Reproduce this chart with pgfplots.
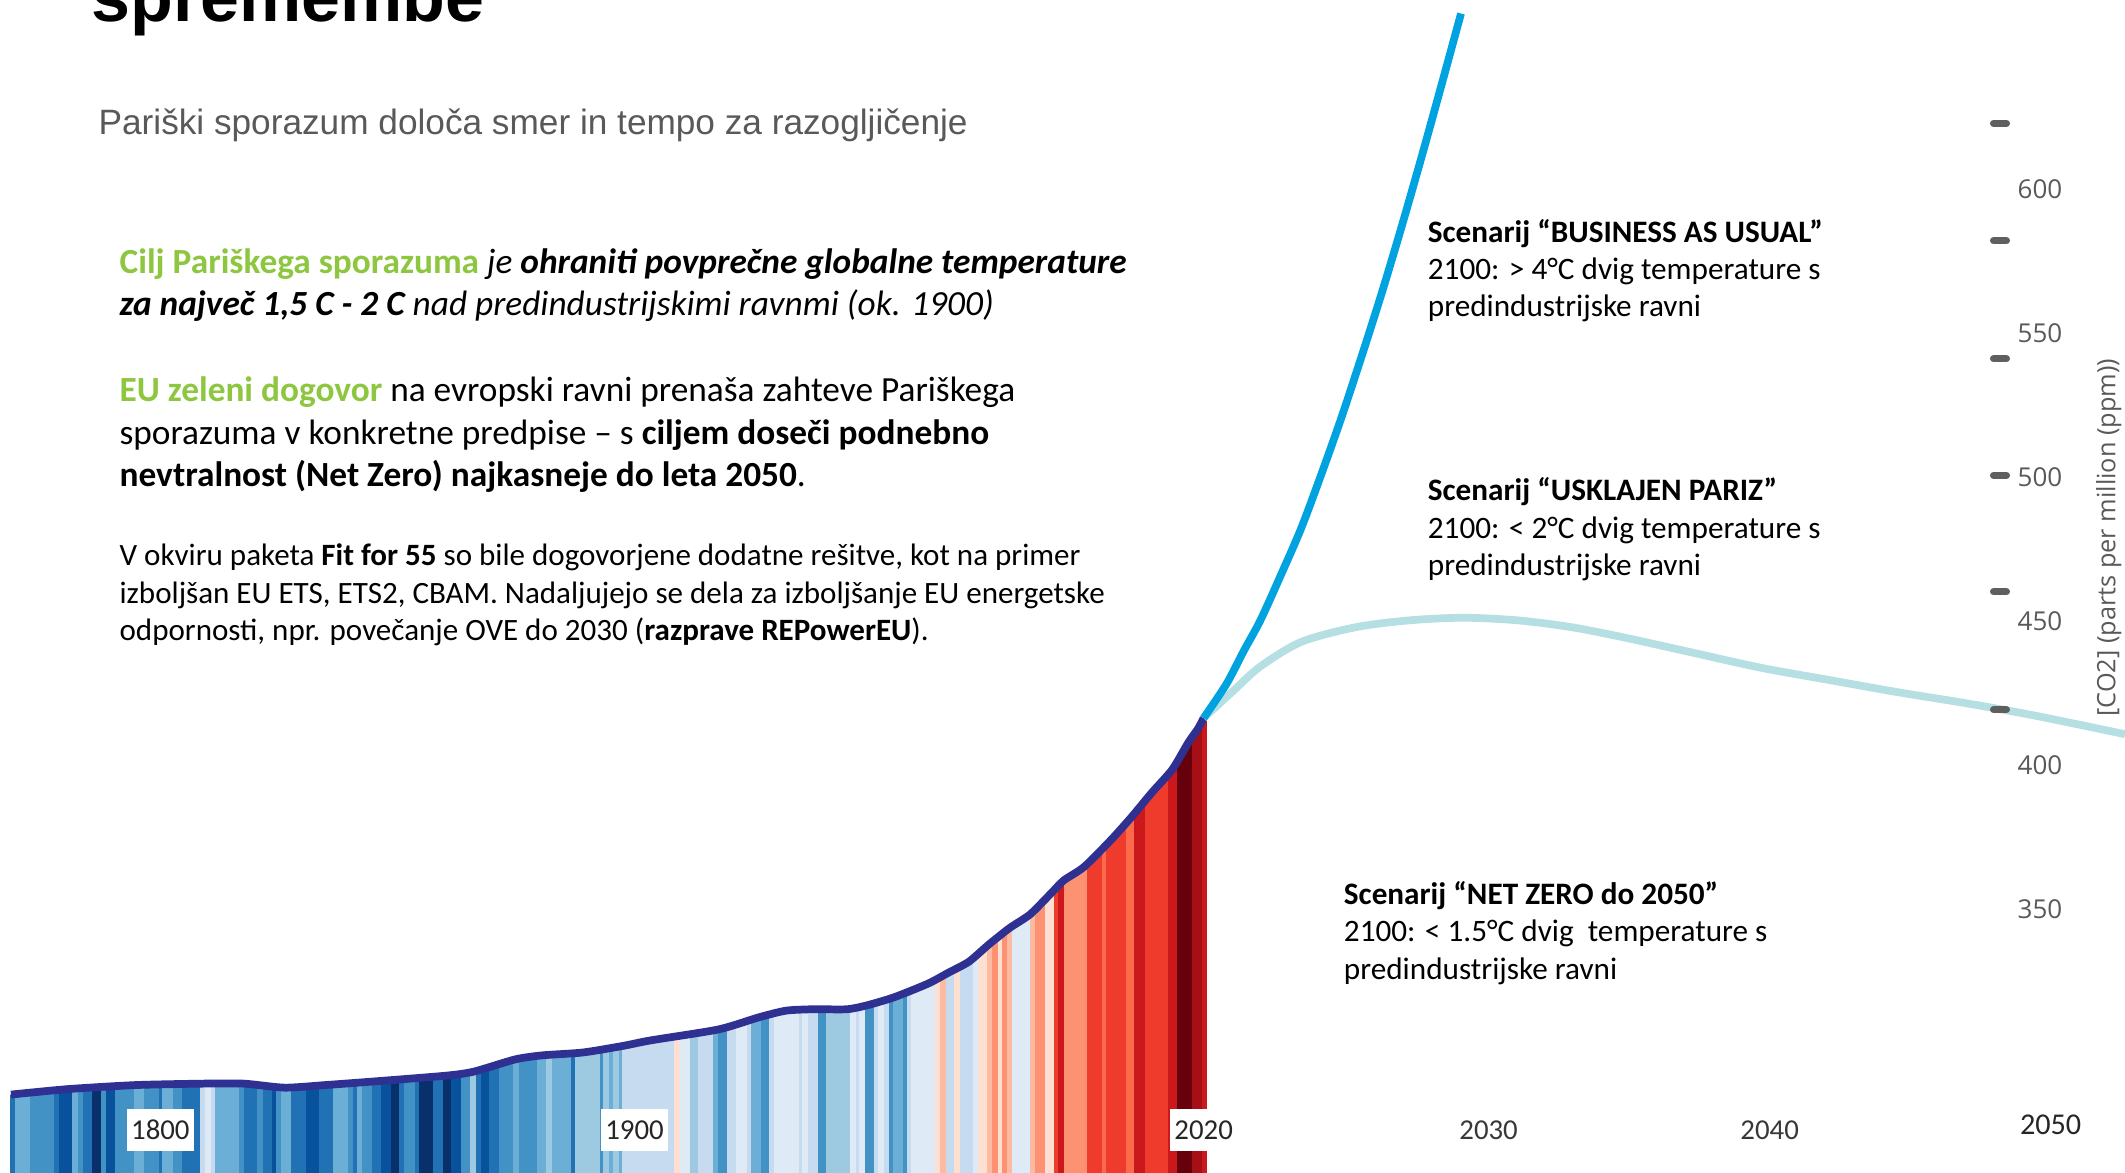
\documentclass[border=0pt]{standalone}
\usepackage{pgfplots}
\pgfplotsset{compat=1.18}
\usepackage{pgfplotstable}
\usepackage{fontspec}
\setmainfont{Carlito}
\newfontfamily\arialf{Liberation Sans}
\newfontfamily\osans{Open Sans}

\definecolor{lv0}{HTML}{08306B}
\definecolor{lv1}{HTML}{08519C}
\definecolor{lv2}{HTML}{2171B5}
\definecolor{lv3}{HTML}{4292C6}
\definecolor{lv4}{HTML}{6BAED6}
\definecolor{lv5}{HTML}{9ECAE1}
\definecolor{lv6}{HTML}{C6DBEF}
\definecolor{lv7}{HTML}{DEEBF7}
\definecolor{lv8}{HTML}{FEE0D2}
\definecolor{lv9}{HTML}{FCBBA1}
\definecolor{lv10}{HTML}{FC9272}
\definecolor{lv11}{HTML}{FB6A4A}
\definecolor{lv12}{HTML}{EF3B2C}
\definecolor{lv13}{HTML}{CB181D}
\definecolor{lv14}{HTML}{A50F15}
\definecolor{lv15}{HTML}{67000D}
\definecolor{navy}{HTML}{2E3192}
\definecolor{bau}{HTML}{00A3E0}
\definecolor{pariz}{HTML}{B5DFE3}
\definecolor{zelena}{HTML}{8DC63F}
\definecolor{sivo}{HTML}{595959}
\definecolor{tickgray}{HTML}{5F5F5F}

\newcommand\fA{\fontsize{10.05}{12}\selectfont}
\newcommand\fB{\fontsize{8.83}{10}\selectfont}
\newcommand\fC{\fontsize{8.88}{10}\selectfont}

% warming stripes: year, colour level (0 = darkest blue ... 15 = darkest red)
\pgfplotstableread[row sep=\\]{
year level\\
1769 2\\ 1770 4\\ 1771 4\\ 1772 4\\ 1773 3\\ 1774 3\\ 1775 3\\ 1776 3\\ 1777 3\\ 1778 2\\
1779 1\\ 1780 1\\ 1781 1\\ 1782 4\\ 1783 3\\ 1784 2\\ 1785 2\\ 1786 0\\ 1787 0\\ 1788 3\\
1789 1\\ 1790 1\\ 1791 3\\ 1792 3\\ 1793 3\\ 1794 3\\ 1795 4\\ 1796 4\\ 1797 3\\ 1798 3\\
1799 3\\ 1800 2\\ 1801 4\\ 1802 4\\ 1803 3\\ 1804 3\\ 1805 2\\ 1806 2\\ 1807 2\\ 1808 2\\
1809 6\\ 1810 7\\ 1811 6\\ 1812 4\\ 1813 4\\ 1814 4\\ 1815 4\\ 1816 4\\ 1817 3\\ 1818 2\\
1819 2\\ 1820 2\\ 1821 3\\ 1822 2\\ 1823 2\\ 1824 1\\ 1825 3\\ 1826 4\\ 1827 4\\ 1828 2\\
1829 2\\ 1830 2\\ 1831 1\\ 1832 1\\ 1833 1\\ 1834 2\\ 1835 2\\ 1836 2\\ 1837 4\\ 1838 4\\
1839 4\\ 1840 3\\ 1841 2\\ 1842 4\\ 1843 3\\ 1844 3\\ 1845 2\\ 1846 2\\ 1847 1\\ 1848 1\\
1849 0\\ 1850 0\\ 1851 2\\ 1852 3\\ 1853 3\\ 1854 2\\ 1855 0\\ 1856 0\\ 1857 0\\ 1858 2\\
1859 2\\ 1860 0\\ 1861 0\\ 1862 1\\ 1863 1\\ 1864 3\\ 1865 3\\ 1866 5\\ 1867 2\\ 1868 1\\
1869 1\\ 1870 2\\ 1871 2\\ 1872 3\\ 1873 3\\ 1874 3\\ 1875 4\\ 1876 3\\ 1877 3\\ 1878 3\\
1879 3\\ 1880 4\\ 1881 4\\ 1882 5\\ 1883 4\\ 1884 4\\ 1885 4\\ 1886 4\\ 1887 2\\ 1888 5\\
1889 5\\ 1890 5\\ 1891 5\\ 1892 5\\ 1893 3\\ 1894 5\\ 1895 4\\ 1896 5\\ 1897 4\\ 1898 6\\
1899 6\\ 1900 6\\ 1901 6\\ 1902 6\\ 1903 6\\ 1904 6\\ 1905 6\\ 1906 6\\ 1907 6\\ 1908 6\\
1909 8\\ 1910 7\\ 1911 7\\ 1912 5\\ 1913 5\\ 1914 6\\ 1915 6\\ 1916 6\\ 1917 4\\ 1918 3\\
1919 3\\ 1920 6\\ 1921 6\\ 1922 7\\ 1923 7\\ 1924 6\\ 1925 4\\ 1926 4\\ 1927 3\\ 1928 3\\
1929 6\\ 1930 7\\ 1931 7\\ 1932 7\\ 1933 7\\ 1934 7\\ 1935 6\\ 1936 7\\ 1937 6\\ 1938 6\\
1939 3\\ 1940 3\\ 1941 5\\ 1942 5\\ 1943 5\\ 1944 5\\ 1945 5\\ 1946 7\\ 1947 6\\ 1948 7\\
1949 3\\ 1950 3\\ 1951 6\\ 1952 7\\ 1953 6\\ 1954 3\\ 1955 4\\ 1956 4\\ 1957 3\\ 1958 6\\
1959 7\\ 1960 7\\ 1961 7\\ 1962 7\\ 1963 7\\ 1964 8\\ 1965 9\\ 1966 6\\ 1967 6\\ 1968 8\\
1969 6\\ 1970 6\\ 1971 6\\ 1972 7\\ 1973 8\\ 1974 8\\ 1975 9\\ 1976 10\\ 1977 8\\ 1978 10\\
1979 9\\ 1980 7\\ 1981 7\\ 1982 7\\ 1983 7\\ 1984 9\\ 1985 10\\ 1986 10\\ 1987 8\\ 1988 8\\
1989 12\\ 1990 13\\ 1991 10\\ 1992 10\\ 1993 10\\ 1994 10\\ 1995 10\\ 1996 12\\ 1997 12\\ 1998 12\\
1999 11\\ 2000 12\\ 2001 12\\ 2002 12\\ 2003 12\\ 2004 11\\ 2005 11\\ 2006 13\\ 2007 13\\ 2008 12\\
2009 12\\ 2010 12\\ 2011 12\\ 2012 12\\ 2013 13\\ 2014 13\\ 2015 15\\ 2016 15\\ 2017 15\\ 2018 14\\
2019 14\\ 2020 13\\
}\stripes

\begin{document}
\begin{tikzpicture}
\useasboundingbox (0,0) rectangle (21.25cm,11.73cm);
\clip (0,0) rectangle (21.25cm,11.73cm);

% ---------------- history axis (stripes + CO2) ----------------
\begin{axis}[
  at={(0,0)}, anchor=south west, scale only axis,
  width=12.1074cm, height=11.73cm,
  xmin=1766.18, xmax=2021.5, ymin=258.6, ymax=665.5,
  axis on top,
  axis line style={draw=none}, major tick length=0pt,
  ytick=\empty,
  xtick={1800,1900,2020}, xticklabels={1800,1900,2020},
  xticklabel style={anchor=center, yshift=0.43cm, fill=white,
     inner xsep=1.2pt, inner ysep=3.2pt, text=black!85,
     font=\fontsize{8.2}{9}\selectfont},
]
\pgfplotsinvokeforeach{0,...,15}{
  \addplot[ybar, bar width=1, bar shift=0pt, fill=lv#1, draw=lv#1, line width=0.3pt,
    restrict expr to domain={\thisrow{level}}{#1:#1}]
    table[x=year, y expr=440] {\stripes};
}
% white mask above the CO2 curve
\addplot[fill=white, draw=none] coordinates {
 (1768.3,285.8) (1780.5,287.7) (1794.8,289.1) (1809.1,289.6) (1817.6,289.6)
 (1826.2,288.2) (1834.8,289.1) (1846.2,290.5) (1860.5,292.4) (1866.2,293.8)
 (1874.8,298.0) (1880.5,299.4) (1889.1,300.4) (1897.6,302.7) (1903.4,304.6)
 (1917.7,308.4) (1926.2,312.6) (1931.9,314.9) (1937.6,315.4) (1944.8,315.4)
 (1949.1,316.8) (1954.8,319.6) (1961.9,324.3) (1966.2,328.1) (1970.5,331.9)
 (1974.8,338.0) (1979.1,343.6) (1983.4,348.3) (1987.7,355.4) (1990.5,360.1)
 (1994.8,364.8) (2000.5,374.2) (2004.8,382.1) (2009.1,390.6) (2013.4,398.6)
 (2016.8,408.0) (2018.8,412.7) (2020.0,416.4) (2021.2,416.4) (2021.2,460) (1768.3,460)
} -- cycle;
\addplot[navy, line width=2.2pt, smooth, tension=0.4] coordinates {
 (1768.5,285.8) (1780.5,287.7) (1794.8,289.1) (1809.1,289.6) (1817.6,289.6)
 (1826.2,288.2) (1834.8,289.1) (1846.2,290.5) (1860.5,292.4) (1866.2,293.8)
 (1874.8,298.0) (1880.5,299.4) (1889.1,300.4) (1897.6,302.7) (1903.4,304.6)
 (1917.7,308.4) (1926.2,312.6) (1931.9,314.9) (1937.6,315.4) (1944.8,315.4)
 (1949.1,316.8) (1954.8,319.6) (1961.9,324.3) (1966.2,328.1) (1970.5,331.9)
 (1974.8,338.0) (1979.1,343.6) (1983.4,348.3) (1987.7,355.4) (1990.5,360.1)
 (1994.8,364.8) (2000.5,374.2) (2004.8,382.1) (2009.1,390.6) (2013.4,398.6)
 (2016.8,408.0) (2018.8,412.7) (2020.0,416.4)
};
\end{axis}

% ---------------- scenario axis ----------------
\begin{axis}[
  at={(12.036cm,0)}, anchor=south west, scale only axis,
  width=9.214cm, height=11.73cm,
  xmin=2020, xmax=2052.79, ymin=258.6, ymax=665.5,
  clip=false,
  axis line style={draw=none}, major tick length=0pt,
  xtick={2030,2040}, xticklabels={2030,2040},
  extra x ticks={2050}, extra x tick labels={2050},
  extra x tick style={xticklabel style={yshift=0.05cm, text=black!85,
     font=\fontsize{8.6}{9}\selectfont}},
  xticklabel style={anchor=center, yshift=0.43cm, text=black!78,
     font=\fontsize{8.2}{9}\selectfont, xshift=0.04cm},
  ytick={350,400,450,500,550,600},
  yticklabels={350,400,450,500,550,600},
  yticklabel pos=right,
  yticklabel style={anchor=west, xshift=-1.08cm, inner sep=0pt, text=sivo,
     font=\osans\fontsize{7.4}{8}\selectfont},
]
\addplot[only marks, mark=-, mark size=1.85pt,
   mark options={line width=2pt, line cap=round, draw=tickgray}] coordinates {
 (2048.34,622.7) (2048.34,581.9) (2048.34,541.0) (2048.34,500.6) (2048.34,460.2) (2048.34,419.3)
};
\addplot[pariz, line width=2.2pt, smooth, tension=0.5] coordinates {
 (2020,416.4) (2021.05,425.8) (2022.02,434.3) (2023.47,442.8) (2025.40,447.9)
 (2027.32,450.3) (2029.25,451.2) (2031.18,450.3) (2033.11,447.9) (2035.04,444.2)
 (2037.45,439.0) (2039.86,433.8) (2042.27,429.6) (2044.69,425.4) (2047.10,421.6)
 (2049.51,417.4) (2052.79,410.8)
};
\addplot[bau, line width=2.2pt, smooth, tension=0.5] coordinates {
 (2020,416.4) (2020.81,428.2) (2021.44,439.9) (2022.02,450.3) (2022.74,465.8)
 (2023.47,482.2) (2024.19,501.0) (2024.91,520.8) (2025.64,542.4) (2026.36,564.5)
 (2027.08,588.0) (2027.81,612.9) (2028.53,638.3) (2029.16,660.8)
};
\end{axis}

% ---------------- slide text ----------------
\begin{scope}[shift={(0,11.73cm)}, x=0.01cm, y=-0.01cm]
\node[anchor=base west, inner sep=0pt, font=\arialf\bfseries\fontsize{19.9}{22}\selectfont] at (91,22) {spremembe};
\node[anchor=base west, inner sep=0pt, text=sivo, font=\arialf\fontsize{10.02}{12}\selectfont] at (98,135) {Pariški sporazum določa smer in tempo za razogljičenje};

\node[anchor=base west, inner sep=0pt, font=\fA] at (119,274) {\textcolor{zelena}{\textbf{Cilj Pariškega sporazuma}} \textit{je \textbf{ohraniti povprečne globalne temperature}}};
\node[anchor=base west, inner sep=0pt, font=\fA] at (119,316) {\textit{\textbf{za največ 1,5 C - 2 C} nad predindustrijskimi ravnmi (ok. 1900)}};

\node[anchor=base west, inner sep=0pt, font=\fA] at (119,402) {\textcolor{zelena}{\textbf{EU zeleni dogovor}} na evropski ravni prenaša zahteve Pariškega};
\node[anchor=base west, inner sep=0pt, font=\fA] at (119,445) {sporazuma v konkretne predpise – s \textbf{ciljem doseči podnebno}};
\node[anchor=base west, inner sep=0pt, font=\fA] at (119,487) {\textbf{nevtralnost (Net Zero) najkasneje do leta 2050}.};

\node[anchor=base west, inner sep=0pt, font=\fB] at (119,566) {V okviru paketa \textbf{Fit for 55} so bile dogovorjene dodatne rešitve, kot na primer};
\node[anchor=base west, inner sep=0pt, font=\fB] at (119,604) {izboljšan EU ETS, ETS2, CBAM. Nadaljujejo se dela za izboljšanje EU energetske};
\node[anchor=base west, inner sep=0pt, font=\fB] at (119,641) {odpornosti, npr. povečanje OVE do 2030 (\textbf{razprave REPowerEU}).};

\node[anchor=base west, inner sep=0pt, font=\fC] at (1428,243) {\textbf{Scenarij “BUSINESS AS USUAL”}};
\node[anchor=base west, inner sep=0pt, font=\fC] at (1428,280) {2100: > 4°C dvig temperature s};
\node[anchor=base west, inner sep=0pt, font=\fC] at (1428,317) {predindustrijske ravni};

\node[anchor=base west, inner sep=0pt, font=\fC] at (1428,501) {\textbf{Scenarij “USKLAJEN PARIZ”}};
\node[anchor=base west, inner sep=0pt, font=\fC] at (1428,539) {2100: < 2°C dvig temperature s};
\node[anchor=base west, inner sep=0pt, font=\fC] at (1428,576) {predindustrijske ravni};

\node[anchor=base west, inner sep=0pt, font=\fC] at (1344,905) {\textbf{Scenarij “NET ZERO do 2050”}};
\node[anchor=base west, inner sep=0pt, font=\fC] at (1344,942) {2100: < 1.5°C dvig\ \ temperature s};
\node[anchor=base west, inner sep=0pt, font=\fC] at (1344,980) {predindustrijske ravni};

\node[rotate=90, anchor=center, inner sep=0pt, text=sivo, font=\osans\fontsize{7.2}{8}\selectfont] at (2110,538) {[CO2] (parts per million (ppm))};
\end{scope}
\end{tikzpicture}
\end{document}
